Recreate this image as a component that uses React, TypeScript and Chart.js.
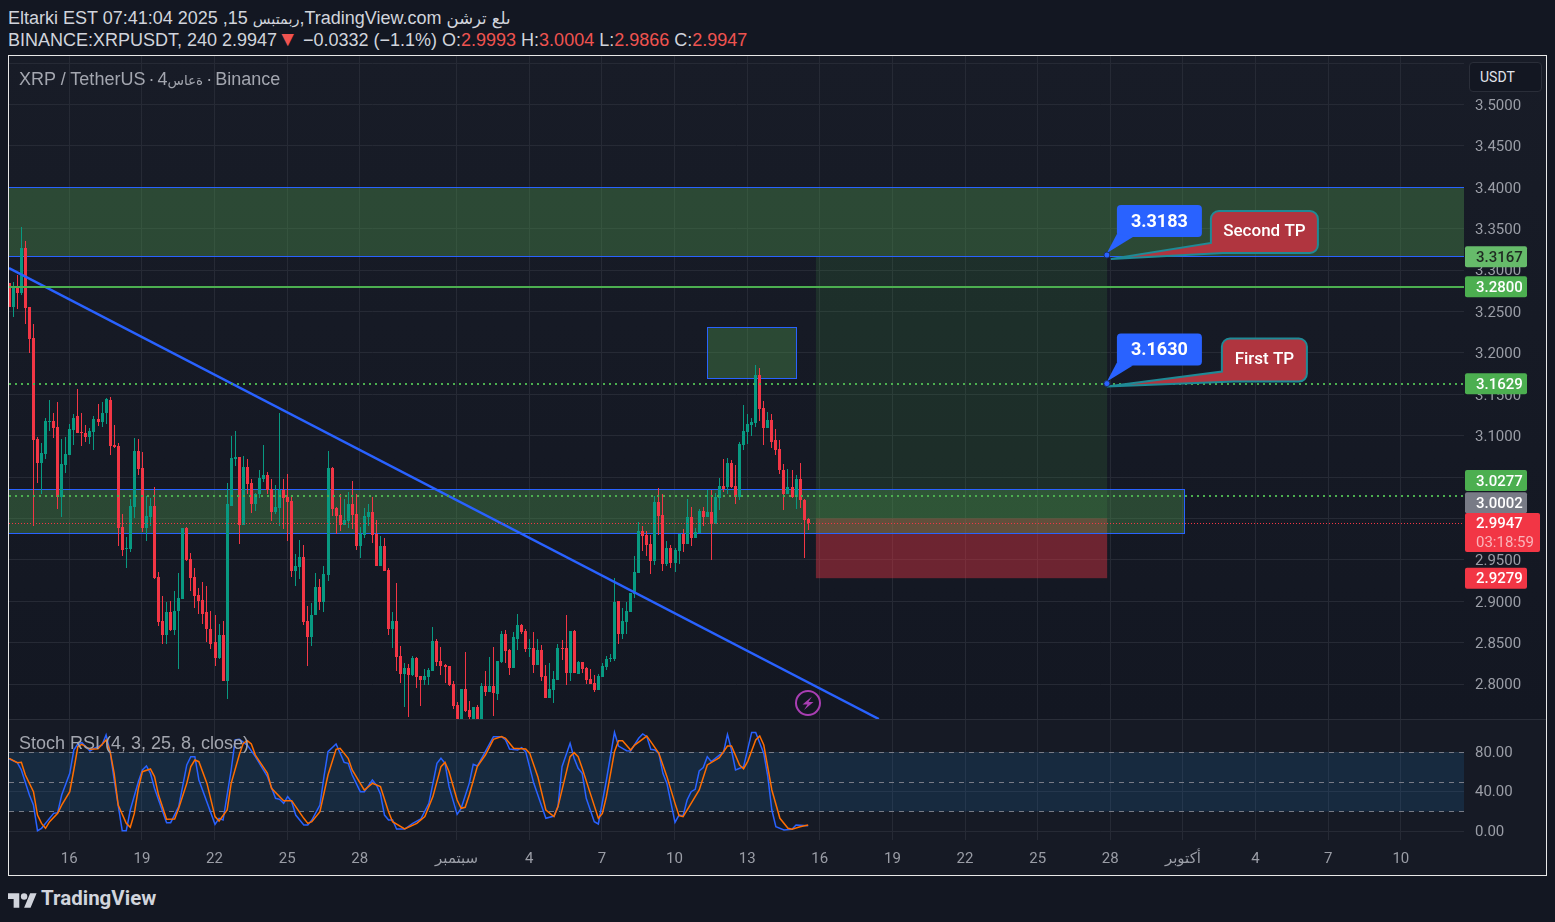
import { useEffect, useRef } from "react"
import Chart from "chart.js/auto"

// ── Theme ────────────────────────────────────────────────────
const PAGE_BG = "#131722"
const UP = "#089981"
const DOWN = "#f23645"
const BLUE = "#2962ff"
const GREEN = "#4caf50"
const ORANGE = "#ff6d00"
const GRID = "#262a35"
const AXIS_TEXT = "#9a9da6"
const FONT = "Roboto, 'DejaVu Sans', sans-serif"
const TITLE_FONT = "'Liberation Sans', 'DejaVu Sans', sans-serif"

// ── Candles: 4h bars, price values ───────────────────────────
const firstBarDay = -2.48 // days from Aug 16
const barsPerDay = 6

const opens = [
  3.284, 3.255, 3.278, 3.273, 3.327, 3.255, 3.218, 3.096, 3.067, 3.078,
  3.116, 3.118, 3.110, 3.026, 3.065, 3.077, 3.107, 3.124, 3.104, 3.103,
  3.098, 3.104, 3.120, 3.116, 3.127, 3.143, 3.089, 3.087, 2.990, 2.963,
  2.963, 3.014, 3.081, 3.061, 2.989, 3.002, 3.015, 2.929, 2.876, 2.859,
  2.887, 2.865, 2.888, 2.903, 2.989, 2.951, 2.929, 2.907, 2.901, 2.887,
  2.867, 2.851, 2.831, 2.859, 2.804, 3.015, 3.072, 3.074, 2.992, 3.062,
  3.043, 3.018, 3.029, 3.048, 3.053, 3.036, 3.008, 3.013, 3.035, 3.026,
  3.021, 2.937, 2.941, 2.954, 2.876, 2.857, 2.883, 2.917, 2.899, 2.932,
  3.061, 3.013, 3.004, 2.992, 2.997, 3.017, 3.005, 2.967, 2.980, 3.002,
  3.008, 2.981, 2.943, 2.967, 2.938, 2.867, 2.876, 2.834, 2.812, 2.819,
  2.811, 2.831, 2.810, 2.805, 2.809, 2.816, 2.852, 2.828, 2.823, 2.822,
  2.800, 2.775, 2.751, 2.794, 2.769, 2.751, 2.772, 2.751, 2.798, 2.791,
  2.798, 2.788, 2.827, 2.861, 2.841, 2.819, 2.855, 2.871, 2.864, 2.842,
  2.843, 2.823, 2.841, 2.810, 2.783, 2.793, 2.805, 2.843, 2.843, 2.813,
  2.864, 2.812, 2.827, 2.819, 2.806, 2.801, 2.793, 2.809, 2.821, 2.830,
  2.830, 2.900, 2.860, 2.875, 2.887, 2.909, 2.934, 2.985, 2.980, 2.969,
  2.949, 3.020, 3.004, 2.945, 2.964, 2.946, 2.961, 2.981, 2.969, 3.002,
  2.977, 2.983, 3.009, 3.002, 3.008, 2.993, 3.025, 3.039, 3.038, 3.067,
  3.039, 3.026, 3.089, 3.104, 3.113, 3.115, 3.173, 3.133, 3.109, 3.119,
  3.095, 3.084, 3.059, 3.029, 3.038, 3.026, 3.048, 3.022, 2.9993,
]
const highs = [
  3.284, 3.286, 3.294, 3.352, 3.335, 3.255, 3.235, 3.098, 3.091, 3.122,
  3.143, 3.127, 3.141, 3.096, 3.098, 3.114, 3.126, 3.156, 3.127, 3.113,
  3.109, 3.124, 3.138, 3.141, 3.145, 3.147, 3.113, 3.091, 3.005, 2.978,
  3.024, 3.097, 3.096, 3.080, 3.027, 3.025, 3.038, 2.935, 2.906, 2.899,
  2.900, 2.913, 2.934, 2.989, 2.990, 2.958, 2.940, 2.916, 2.923, 2.918,
  2.888, 2.884, 2.873, 2.876, 3.043, 3.100, 3.106, 3.074, 3.075, 3.072,
  3.048, 3.031, 3.058, 3.089, 3.056, 3.048, 3.041, 3.127, 3.048, 3.054,
  3.026, 2.957, 2.974, 2.968, 2.894, 2.898, 2.934, 2.927, 2.943, 3.081,
  3.062, 3.014, 3.029, 3.024, 3.032, 3.045, 3.029, 2.990, 3.013, 3.017,
  3.026, 2.998, 2.979, 2.977, 2.940, 2.887, 2.922, 2.846, 2.825, 2.824,
  2.834, 2.833, 2.810, 2.818, 2.819, 2.869, 2.855, 2.845, 2.824, 2.822,
  2.804, 2.778, 2.794, 2.839, 2.780, 2.772, 2.775, 2.801, 2.816, 2.833,
  2.845, 2.828, 2.864, 2.865, 2.842, 2.863, 2.885, 2.873, 2.866, 2.855,
  2.863, 2.855, 2.847, 2.823, 2.825, 2.816, 2.849, 2.853, 2.884, 2.864,
  2.865, 2.828, 2.827, 2.821, 2.818, 2.811, 2.812, 2.825, 2.834, 2.836,
  2.928, 2.900, 2.892, 2.899, 2.910, 2.955, 2.996, 2.991, 2.985, 2.980,
  3.027, 3.037, 3.030, 2.973, 2.968, 2.964, 2.981, 2.987, 3.024, 3.014,
  2.989, 3.012, 3.014, 3.035, 3.035, 3.031, 3.049, 3.072, 3.073, 3.071,
  3.065, 3.093, 3.137, 3.126, 3.121, 3.185, 3.182, 3.142, 3.129, 3.126,
  3.108, 3.095, 3.066, 3.060, 3.058, 3.053, 3.067, 3.024, 3.0004,
]
const lows = [
  3.255, 3.244, 3.253, 3.270, 3.235, 3.200, 2.991, 3.043, 3.030, 3.072,
  3.106, 3.097, 3.012, 3.002, 3.055, 3.077, 3.089, 3.103, 3.087, 3.092,
  3.090, 3.083, 3.112, 3.110, 3.114, 3.077, 3.085, 2.967, 2.955, 2.940,
  2.960, 3.001, 3.053, 2.984, 2.973, 2.991, 2.927, 2.870, 2.848, 2.848,
  2.864, 2.859, 2.818, 2.903, 2.949, 2.912, 2.892, 2.885, 2.872, 2.851,
  2.842, 2.822, 2.830, 2.804, 2.782, 3.015, 3.063, 2.969, 2.992, 3.029,
  3.007, 3.009, 3.025, 3.044, 3.030, 2.997, 3.005, 2.991, 2.987, 2.973,
  2.929, 2.918, 2.927, 2.871, 2.822, 2.846, 2.883, 2.889, 2.887, 2.925,
  3.003, 2.981, 2.985, 2.992, 2.989, 2.987, 2.962, 2.952, 2.977, 2.991,
  2.970, 2.943, 2.943, 2.937, 2.859, 2.843, 2.816, 2.801, 2.772, 2.760,
  2.810, 2.795, 2.774, 2.799, 2.799, 2.816, 2.822, 2.811, 2.801, 2.798,
  2.770, 2.745, 2.745, 2.766, 2.751, 2.747, 2.747, 2.751, 2.786, 2.791,
  2.762, 2.781, 2.825, 2.825, 2.811, 2.819, 2.841, 2.861, 2.839, 2.833,
  2.813, 2.823, 2.804, 2.783, 2.783, 2.777, 2.805, 2.829, 2.799, 2.804,
  2.813, 2.812, 2.813, 2.800, 2.800, 2.791, 2.793, 2.809, 2.817, 2.827,
  2.828, 2.849, 2.854, 2.860, 2.887, 2.904, 2.934, 2.961, 2.955, 2.933,
  2.944, 2.980, 2.937, 2.943, 2.940, 2.935, 2.945, 2.960, 2.969, 2.967,
  2.977, 2.983, 2.991, 3.002, 2.950, 2.993, 3.010, 3.032, 3.030, 3.037,
  3.018, 3.022, 3.083, 3.090, 3.100, 3.110, 3.118, 3.089, 3.109, 3.085,
  3.077, 3.054, 3.010, 3.029, 3.025, 3.012, 3.013, 2.952, 2.9866,
]
const closes = [
  3.255, 3.278, 3.273, 3.327, 3.254, 3.217, 3.095, 3.067, 3.079, 3.118,
  3.118, 3.109, 3.026, 3.066, 3.078, 3.108, 3.122, 3.103, 3.103, 3.098,
  3.106, 3.120, 3.116, 3.127, 3.144, 3.087, 3.086, 2.989, 2.962, 2.964,
  3.015, 3.081, 3.060, 2.989, 3.003, 3.015, 2.928, 2.875, 2.859, 2.887,
  2.865, 2.888, 2.904, 2.989, 2.950, 2.928, 2.906, 2.900, 2.885, 2.866,
  2.849, 2.831, 2.859, 2.804, 3.017, 3.073, 3.074, 2.992, 3.062, 3.042,
  3.018, 3.030, 3.049, 3.053, 3.035, 3.008, 3.014, 3.035, 3.025, 3.020,
  2.937, 2.943, 2.954, 2.875, 2.857, 2.884, 2.917, 2.899, 2.933, 3.061,
  3.012, 3.003, 2.992, 2.998, 3.017, 3.004, 2.967, 2.981, 3.003, 3.008,
  2.980, 2.943, 2.967, 2.937, 2.867, 2.876, 2.833, 2.812, 2.819, 2.811,
  2.831, 2.809, 2.805, 2.810, 2.817, 2.852, 2.827, 2.822, 2.821, 2.799,
  2.774, 2.751, 2.794, 2.768, 2.760, 2.772, 2.751, 2.798, 2.791, 2.798,
  2.789, 2.828, 2.861, 2.840, 2.819, 2.857, 2.871, 2.863, 2.842, 2.843,
  2.823, 2.841, 2.809, 2.783, 2.794, 2.806, 2.843, 2.842, 2.813, 2.864,
  2.813, 2.827, 2.818, 2.805, 2.800, 2.793, 2.810, 2.822, 2.830, 2.831,
  2.899, 2.860, 2.876, 2.888, 2.910, 2.935, 2.985, 2.979, 2.968, 2.949,
  3.020, 3.003, 2.945, 2.964, 2.946, 2.962, 2.981, 2.969, 3.002, 2.977,
  2.984, 3.009, 3.002, 3.008, 2.993, 3.026, 3.039, 3.036, 3.067, 3.038,
  3.026, 3.090, 3.106, 3.114, 3.116, 3.173, 3.132, 3.109, 3.119, 3.093,
  3.083, 3.058, 3.030, 3.038, 3.026, 3.048, 3.022, 2.998, 2.9947,
]

// ── Stoch RSI: turning points of both lines, by bar number ───
const kBars = [
  0, 2, 3, 5, 6, 7, 8, 11, 12, 13, 15, 16, 17, 18, 20, 21, 23, 24, 25, 26, 28, 29, 30, 32, 33, 34, 35, 36, 39, 40,
  42, 44, 45, 46, 47, 51, 52, 53, 55, 56, 57, 59, 61, 64, 66, 67, 68, 69, 70, 71, 73, 74, 75, 77, 78, 79, 81, 83, 84, 85,
  87, 88, 90, 91, 92, 93, 94, 95, 96, 98, 100, 102, 104, 105, 106, 107, 108, 109, 111, 112, 114, 115, 116, 118, 120, 122, 123, 124, 126, 127,
  128, 130, 133, 135, 136, 137, 139, 140, 141, 142, 143, 144, 145, 146, 148, 150, 151, 153, 154, 156, 157, 158, 159, 160, 161, 162, 163, 165, 166, 167,
  168, 169, 170, 171, 172, 173, 174, 176, 177, 178, 179, 180, 182, 184, 185, 187, 188, 189, 190, 192, 194, 195, 198,
]
const kValues = [
  73.0, 69.3, 61.9, 36.6, 26.5, 0.6, 3.0, 18.1, 18.8, 36.6, 58.5, 82.1, 88.2, 89.5, 81.1, 83.8, 87.1, 97.2, 80.4, 51.8, 0.6, 0.6, 21.5, 50.1, 61.9, 66.0, 58.5, 43.4, 8.7, 8.7,
  24.9, 67.0, 75.4, 75.4, 51.8, 7.0, 13.1, 11.4, 61.9, 92.2, 92.9, 87.1, 75.4, 55.2, 33.3, 32.3, 28.2, 35.0, 29.9, 16.4, 6.3, 6.3, 11.4, 26.5, 55.2, 80.4, 88.2, 69.6, 68.6, 56.8,
  40.0, 40.0, 51.8, 46.7, 37.6, 16.4, 11.4, 11.4, 2.3, 2.3, 8.0, 12.4, 28.2, 48.4, 68.6, 73.7, 68.6, 45.1, 17.1, 23.2, 48.4, 67.6, 65.9, 80.4, 95.6, 95.6, 92.2, 83.1, 82.1, 84.5,
  80.4, 48.4, 13.1, 15.4, 24.9, 65.3, 88.8, 73.7, 63.6, 58.5, 33.3, 21.5, 9.7, 7.4, 51.8, 99.9, 86.1, 81.4, 81.1, 93.9, 98.3, 95.6, 82.8, 82.1, 78.7, 58.5, 48.4, 9.0, 16.4, 15.8,
  31.6, 40.0, 42.4, 60.9, 64.3, 75.4, 70.3, 77.0, 79.4, 97.9, 82.1, 61.9, 65.3, 99.9, 99.9, 78.7, 55.2, 21.5, 4.6, 1.3, 2.0, 6.3, 5.7,
]
const dBars = [
  0, 2, 3, 4, 6, 7, 8, 9, 10, 12, 13, 15, 16, 17, 18, 20, 22, 24, 25, 26, 27, 29, 30, 31, 32, 33, 35, 36, 37, 39,
  41, 42, 44, 45, 46, 47, 49, 51, 52, 54, 55, 57, 58, 59, 60, 61, 64, 65, 68, 70, 71, 73, 74, 75, 77, 79, 81, 82, 84, 85,
  87, 88, 90, 92, 94, 95, 98, 101, 103, 105, 107, 108, 109, 111, 112, 113, 114, 116, 118, 120, 122, 123, 125, 128, 129, 131, 133, 135, 136, 139,
  140, 141, 142, 144, 146, 147, 148, 150, 151, 152, 154, 155, 158, 159, 161, 163, 165, 166, 167, 169, 171, 173, 176, 178, 179, 181, 182, 183, 185, 186,
  187, 189, 191, 193, 194, 196, 198,
]
const dValues = [
  73.7, 69.3, 69.6, 56.8, 40.0, 16.4, 8.0, 3.0, 9.7, 18.1, 26.5, 40.0, 61.9, 85.5, 87.8, 82.8, 83.4, 92.2, 80.4, 58.5, 26.5, 8.0, 4.0, 18.1, 43.4, 60.2, 62.9, 55.2, 36.6, 12.1,
  12.4, 23.2, 48.4, 65.3, 72.0, 70.3, 48.4, 14.8, 10.4, 21.5, 48.4, 77.0, 88.8, 91.5, 88.2, 77.0, 58.5, 43.4, 30.9, 30.9, 24.9, 13.1, 8.0, 9.7, 19.8, 56.8, 82.8, 83.8, 73.7, 61.9,
  48.4, 41.7, 48.4, 45.1, 19.8, 9.7, 2.3, 8.0, 14.8, 35.0, 65.3, 69.6, 60.2, 31.6, 23.2, 24.2, 36.6, 65.3, 77.0, 92.9, 95.6, 93.9, 83.8, 83.1, 78.7, 55.2, 21.5, 14.8, 24.9, 75.4,
  79.4, 75.4, 63.6, 38.3, 13.1, 18.1, 35.0, 80.4, 91.5, 91.5, 82.1, 87.1, 96.2, 90.5, 78.7, 55.2, 28.2, 15.8, 14.8, 28.2, 41.7, 67.0, 74.4, 86.1, 86.1, 67.0, 63.2, 70.3, 92.2, 96.2,
  87.1, 41.7, 13.1, 3.0, 2.0, 4.6, 6.3,
]

// ── Axes ─────────────────────────────────────────────────────
const dayMin = -2.49
const dayMax = 57.61
const tickDays = [0, 3, 6, 9, 12, 16, 19, 22, 25, 28, 31, 34, 37, 40, 43, 46, 49, 52, 55]
const tickLabels = ["16", "19", "22", "25", "28", "سبتمبر", "4", "7", "10", "13", "16", "19", "22", "25", "28", "أكتوبر", "4", "7", "10"]
const priceMin = 2.7578
const priceMax = 3.5587
const rsiMin = -8.8
const rsiMax = 112.4
const rsiTicks = [0, 40, 80]
const rsiDashes = [80, 50, 20]

// ── Drawings on the price pane (day, price) ──────────────────
const trendDays = [-2.49, 33.44]
const trendPrices = [3.3026, 2.7578]
const solidLevel = 3.28
const dottedLevels = [3.1629, 3.0277]
const lastPrice = 2.9947
const topZone = [3.4, 3.3167]
const midZone = [3.0353, 2.982]
const midZoneEnd = 46.04
const smallZone = [26.34, 30.02, 3.2312, 3.1694]
const longDays = [30.84, 42.87]
const longPrices = [3.3167, 3.0002, 2.9279]
const targetDay = 42.86
const targetPrices = [3.3183, 3.163]

const dayOfBar = (i: number) => firstBarDay + i / barsPerDay

function roundedBoxPath(ctx: CanvasRenderingContext2D, x: number, y: number, w: number, h: number, r: number) {
  ctx.beginPath()
  ctx.roundRect(x, y, w, h, r)
}

function drawTag(ctx: CanvasRenderingContext2D, left: number, midY: number, text: string, bg: string, fg: string) {
  ctx.fillStyle = bg
  roundedBoxPath(ctx, left, midY - 10.5, 62, 21, 2)
  ctx.fill()
  ctx.fillStyle = fg
  ctx.font = `500 15px ${FONT}`
  ctx.textAlign = "left"
  ctx.textBaseline = "middle"
  ctx.fillText(text, left + 11, midY + 1.5)
}

// Blue value note: small box above the anchor, tail to the anchor
function drawValueNote(ctx: CanvasRenderingContext2D, ax: number, ay: number, text: string) {
  const x = ax + 10, top = ay - 50, w = 85, h = 32
  ctx.fillStyle = BLUE
  roundedBoxPath(ctx, x, top, w, h, 4)
  ctx.fill()
  ctx.beginPath()
  ctx.moveTo(ax, ay - 2)
  ctx.lineTo(x, top + h - 3)
  ctx.lineTo(x + 16, top + h)
  ctx.closePath()
  ctx.fill()
  ctx.fillStyle = "#fff"
  ctx.font = `bold 18px ${FONT}`
  ctx.textAlign = "center"
  ctx.textBaseline = "middle"
  ctx.fillText(text, x + w / 2, top + h / 2 + 1)
  ctx.beginPath()
  ctx.arc(ax, ay, 3, 0, Math.PI * 2)
  ctx.fillStyle = BLUE
  ctx.fill()
  ctx.strokeStyle = "#1c2f66"
  ctx.lineWidth = 1
  ctx.stroke()
}

// Red callout with a long tail running back to the anchor
function drawCallout(ctx: CanvasRenderingContext2D, tipX: number, tipY: number, x: number, top: number, w: number, h: number, text: string) {
  const r = 8
  ctx.beginPath()
  ctx.moveTo(tipX, tipY)
  ctx.lineTo(x, top + h - 10)
  ctx.lineTo(x, top + r)
  ctx.arcTo(x, top, x + r, top, r)
  ctx.lineTo(x + w - r, top)
  ctx.arcTo(x + w, top, x + w, top + r, r)
  ctx.lineTo(x + w, top + h - r)
  ctx.arcTo(x + w, top + h, x + w - r, top + h, r)
  ctx.lineTo(x + 12, top + h)
  ctx.closePath()
  ctx.fillStyle = "#b0353f"
  ctx.fill()
  ctx.strokeStyle = "#1f8a96"
  ctx.lineWidth = 2
  ctx.stroke()
  ctx.fillStyle = "#fff"
  ctx.font = `500 17px ${FONT}`
  ctx.textAlign = "center"
  ctx.textBaseline = "middle"
  ctx.fillText(text, x + w / 2, top + h / 2)
}

// snap candle rects and flat level lines to whole pixels so they stay crisp
const snapMarks = {
  id: "snapMarks",
  afterDatasetsUpdate(chart: any) {
    chart.data.datasets.forEach((ds: any, i: number) => {
      const els = chart.getDatasetMeta(i).data
      if (ds.type === "bar") {
        els.forEach((el: any) => {
          el.x = Math.floor(el.x) + 0.5
          el.y = Math.round(el.y)
          el.base = Math.round(el.base)
          el.height = el.base - el.y
        })
      } else if (ds.isLevel) {
        const shift = ds.borderWidth % 2 ? 0.5 : 0
        els.forEach((el: any) => { el.y = Math.round(el.y) + shift })
      }
    })
  },
}

const priceZones = {
  id: "priceZones",
  beforeDatasetsDraw(chart: any) {
    const { ctx, chartArea: a, scales } = chart
    const px = (d: number) => scales.x.getPixelForValue(d)
    const py = (p: number) => scales.y.getPixelForValue(p)
    const zoneFill = "rgba(80,150,80,0.38)"
    ctx.save()
    ctx.beginPath()
    ctx.rect(a.left, a.top, a.right - a.left, a.bottom - a.top)
    ctx.clip()

    // long position
    ctx.fillStyle = "rgba(76,175,80,0.14)"
    ctx.fillRect(px(longDays[0]), py(longPrices[0]), px(longDays[1]) - px(longDays[0]), py(longPrices[1]) - py(longPrices[0]))
    ctx.fillStyle = "rgba(242,54,69,0.4)"
    ctx.fillRect(px(longDays[0]), py(longPrices[1]), px(longDays[1]) - px(longDays[0]), py(longPrices[2]) - py(longPrices[1]))

    ctx.fillStyle = zoneFill
    ctx.strokeStyle = BLUE
    ctx.lineWidth = 1
    // upper zone runs to the axis
    const ut = Math.round(py(topZone[0])) + 0.5
    const ub = Math.round(py(topZone[1])) + 0.5
    ctx.fillRect(a.left, ut, a.right - a.left, ub - ut)
    ctx.strokeRect(a.left - 5, ut, a.right - a.left + 10, ub - ut)
    // middle zone ends at Oct 1
    const mt = Math.round(py(midZone[0])) + 0.5
    const mb = Math.round(py(midZone[1])) + 0.5
    const mr = Math.round(px(midZoneEnd)) + 0.5
    ctx.fillRect(a.left, mt, mr - a.left, mb - mt)
    ctx.strokeRect(a.left - 5, mt, mr - a.left + 5, mb - mt)
    // small box over the high
    const sl = Math.round(px(smallZone[0])) + 0.5
    const sr = Math.round(px(smallZone[1])) + 0.5
    const st = Math.round(py(smallZone[2])) + 0.5
    const sb = Math.round(py(smallZone[3])) + 0.5
    ctx.fillRect(sl, st, sr - sl, sb - st)
    ctx.strokeRect(sl, st, sr - sl, sb - st)
    ctx.restore()
  },
  afterDraw(chart: any) {
    const { ctx, chartArea: a, scales } = chart
    const px = (d: number) => scales.x.getPixelForValue(d)
    const py = (p: number) => scales.y.getPixelForValue(p)
    ctx.save()
    const ax = px(targetDay)
    const a0 = py(targetPrices[0])
    const a1 = py(targetPrices[1])
    drawCallout(ctx, ax + 4, a0 + 4, ax + 104, a0 - 44, 107, 42, "Second TP")
    drawCallout(ctx, ax, a1 + 3, ax + 115, a1 - 45, 85, 43, "First TP")
    drawValueNote(ctx, ax, a0, "3.3183")
    drawValueNote(ctx, ax, a1, "3.1630")

    // price tags on the axis
    const left = a.right + 1
    drawTag(ctx, left, py(3.3167) + 0.5, "3.3167", "#66bb6a", "#1f2a22")
    drawTag(ctx, left, py(3.28), "3.2800", GREEN, "#fff")
    drawTag(ctx, left, py(3.1629), "3.1629", GREEN, "#fff")
    drawTag(ctx, left, py(3.0277) - 15, "3.0277", GREEN, "#fff")
    drawTag(ctx, left, py(3.0002) - 15.5, "3.0002", "#787b86", "#fff")
    drawTag(ctx, left, py(2.9279), "2.9279", DOWN, "#fff")
    // last price with countdown
    const ly = py(lastPrice)
    ctx.fillStyle = DOWN
    roundedBoxPath(ctx, left, ly - 10, 75, 39, 2)
    ctx.fill()
    ctx.font = `500 15px ${FONT}`
    ctx.textAlign = "left"
    ctx.textBaseline = "middle"
    ctx.fillStyle = "#fff"
    ctx.fillText("2.9947", left + 11, ly + 1.5)
    ctx.fillStyle = "#fbb4ba"
    ctx.font = `400 15px ${FONT}`
    ctx.fillText("03:18:59", left + 11, ly + 20)
    ctx.restore()
  },
}

const rsiBand = {
  id: "rsiBand",
  beforeDatasetsDraw(chart: any) {
    const { ctx, chartArea: a, scales } = chart
    const top = scales.y.getPixelForValue(80)
    const bottom = scales.y.getPixelForValue(20)
    ctx.save()
    ctx.fillStyle = "rgba(33,150,243,0.13)"
    ctx.fillRect(a.left, top, a.right - a.left, bottom - top)
    ctx.restore()
  },
}

const levelLine = (price: number, color: string, width: number, dash: number[]) => ({
  type: "line" as const,
  isLevel: true,
  data: [{ x: dayMin, y: price }, { x: dayMax, y: price }],
  borderColor: color,
  borderWidth: width,
  borderDash: dash,
  pointRadius: 0,
  order: 0,
})

function xScale(showLabels: boolean) {
  return {
    type: "linear" as const,
    offset: false,
    min: dayMin,
    max: dayMax,
    afterBuildTicks: (scale: any) => { scale.ticks = tickDays.map(value => ({ value })) },
    afterFit: (scale: any) => {
      scale.height = showLabels ? 35 : 0
      scale.paddingLeft = 0
      scale.paddingRight = 0
    },
    border: { display: false },
    grid: { color: GRID, drawTicks: false, offset: false },
    ticks: {
      display: showLabels,
      autoSkip: false,
      maxRotation: 0,
      padding: 10,
      color: AXIS_TEXT,
      font: { family: FONT, size: 15 },
      callback: (_v: any, i: number) => tickLabels[i],
    },
  }
}

// fixed axis strip; label overhang must not shrink the plot
const fitValueAxis = (scale: any) => {
  scale.width = 82
  scale.paddingTop = 0
  scale.paddingBottom = 0
}

function PriceAndRsi() {
  const priceRef = useRef<HTMLCanvasElement>(null)
  const rsiRef = useRef<HTMLCanvasElement>(null)

  useEffect(() => {
    if (!priceRef.current || !rsiRef.current) return
    const colors = closes.map((c, i) => (c >= opens[i] ? UP : DOWN))

    const priceChart = new Chart(priceRef.current, {
      type: "bar",
      data: {
        datasets: [
          {
            type: "bar",
            data: opens.map((_, i) => ({ x: dayOfBar(i), y: [lows[i], highs[i]] })) as any,
            backgroundColor: colors,
            barThickness: 1,
            grouped: false,
            inflateAmount: 0,
            minBarLength: 1,
            order: 2,
          },
          {
            type: "bar",
            data: opens.map((o, i) => ({ x: dayOfBar(i), y: [o, closes[i]] })) as any,
            backgroundColor: colors,
            barThickness: 3,
            grouped: false,
            inflateAmount: 0,
            minBarLength: 1,
            order: 1,
          },
          levelLine(solidLevel, GREEN, 2, []),
          levelLine(dottedLevels[0], GREEN, 2, [2, 4]),
          levelLine(dottedLevels[1], GREEN, 2, [2, 4]),
          levelLine(lastPrice, DOWN, 1, [1, 2]),
          {
            type: "line",
            data: trendDays.map((x, i) => ({ x, y: trendPrices[i] })),
            borderColor: BLUE,
            borderWidth: 2.5,
            pointRadius: 0,
            order: 0,
          },
        ] as any,
      },
      options: {
        animation: false,
        responsive: false,
        devicePixelRatio: 1,
        layout: { padding: 0, autoPadding: false },
        plugins: { legend: { display: false }, tooltip: { enabled: false } },
        scales: {
          x: xScale(false),
          y: {
            position: "right",
            min: priceMin,
            max: priceMax,
            afterFit: fitValueAxis,
            border: { display: false },
            grid: { color: GRID, drawTicks: false },
            ticks: {
              stepSize: 0.05,
              includeBounds: false,
              autoSkip: false,
              padding: 11,
              labelOffset: 1.5,
              color: AXIS_TEXT,
              font: { family: FONT, size: 15 },
              // 3.5500 sits behind the currency button
              callback: (v: any) => (v > 3.52 ? "" : Number(v).toFixed(4)),
            },
          },
        } as any,
      },
      plugins: [snapMarks, priceZones],
    })

    const rsiChart = new Chart(rsiRef.current, {
      type: "line",
      data: {
        datasets: [
          ...rsiDashes.map(v => ({
            ...levelLine(v, "#787b86", 1, [5, 5]),
            order: 2,
          })),
          {
            data: kBars.map((b, i) => ({ x: dayOfBar(b), y: kValues[i] })),
            borderColor: BLUE,
            borderWidth: 1.5,
            pointRadius: 0,
            order: 1,
          },
          {
            data: dBars.map((b, i) => ({ x: dayOfBar(b), y: dValues[i] })),
            borderColor: ORANGE,
            borderWidth: 1.5,
            pointRadius: 0,
            order: 0,
          },
        ] as any,
      },
      options: {
        animation: false,
        responsive: false,
        devicePixelRatio: 1,
        layout: { padding: 0, autoPadding: false },
        plugins: { legend: { display: false }, tooltip: { enabled: false } },
        scales: {
          x: xScale(true),
          y: {
            position: "right",
            min: rsiMin,
            max: rsiMax,
            afterBuildTicks: (scale: any) => { scale.ticks = rsiTicks.map(value => ({ value })) },
            afterFit: fitValueAxis,
            border: { display: false },
            grid: { color: GRID, drawTicks: false },
            ticks: {
              autoSkip: false,
              padding: 11,
              labelOffset: 1,
              color: AXIS_TEXT,
              font: { family: FONT, size: 15 },
              callback: (v: any) => Number(v).toFixed(2),
            },
          },
        } as any,
      },
      plugins: [snapMarks, rsiBand],
    })

    return () => {
      priceChart.destroy()
      rsiChart.destroy()
    }
  }, [])

  return (
    <>
      <canvas
        ref={priceRef}
        width={1537}
        height={663}
        style={{ position: "absolute", left: 9, top: 56, background: "linear-gradient(#181c27, #131722)" }}
      />
      <canvas
        ref={rsiRef}
        width={1537}
        height={155}
        style={{ position: "absolute", left: 9, top: 720, background: "#161a25" }}
      />
    </>
  )
}

const red = { color: "#ef5350" }

// the source image prints Arabic words letter by letter from the left
const Lr = ({ children, size }: { children: string; size: number }) => <bdo dir="ltr" style={{ fontSize: size }}>{children}</bdo>

export default function App() {
  return (
    <div style={{
      position: "absolute", left: 0, top: 0, width: 1555, height: 922,
      background: PAGE_BG, overflow: "hidden", fontFamily: TITLE_FONT, color: "#d1d4dc",
    }}>
      <div style={{ position: "absolute", left: 8, top: 8, fontSize: 18, lineHeight: "20px", whiteSpace: "nowrap" }}>
        Eltarki EST 07:41:04 2025 ,15 <Lr size={14.5}>سبتمبر</Lr>,TradingView.com <Lr size={16.5}>نشرت</Lr> <Lr size={16.5}>على</Lr>
      </div>
      <div style={{ position: "absolute", left: 8, top: 30, fontSize: 18, lineHeight: "20px", whiteSpace: "nowrap" }}>
        BINANCE:XRPUSDT, 240 2.9947<span style={{ ...red, fontSize: 21, lineHeight: "16px" }}>▼</span> −0.0332 (−1.1%) O:<span style={red}>2.9993</span> H:<span style={red}>3.0004</span> L:<span style={red}>2.9866</span> C:<span style={red}>2.9947</span>
      </div>

      <div style={{ position: "absolute", left: 8, top: 55, width: 1539, height: 821, boxSizing: "border-box", border: "1px solid #e8e8e8" }} />
      <PriceAndRsi />
      <div style={{ position: "absolute", left: 9, top: 719, width: 1537, height: 1, background: "#2a2e39" }} />

      <div style={{ position: "absolute", left: 19, top: 68, fontSize: 18, lineHeight: "22px", color: "#a3a6af", whiteSpace: "nowrap" }}>
        XRP / TetherUS<span style={{ wordSpacing: -2 }}> · 4<Lr size={13.5}>ساعة</Lr> · </span>Binance
      </div>
      <div style={{ position: "absolute", left: 19, top: 732, fontSize: 18, lineHeight: "22px", color: "#a3a6af", whiteSpace: "nowrap" }}>
        Stoch RSI (4, 3, 25, 8, close)
      </div>

      <div style={{
        position: "absolute", left: 1469, top: 62, width: 73, height: 30, boxSizing: "border-box",
        border: "1px solid #2a2e39", borderRadius: 4, background: "#131722",
        fontFamily: FONT, fontSize: 14, lineHeight: "28px", paddingLeft: 10, color: "#e0e3eb",
      }}>
        USDT
      </div>

      <svg width={28} height={28} viewBox="0 0 28 28" style={{ position: "absolute", left: 794, top: 689 }}>
        <circle cx={14} cy={14} r={12} fill="#131722" stroke="#a93eb3" strokeWidth={2} />
        <path d="M18 7.5 8.5 15.5h5L10 21l9.5-8h-5z" fill="#a93eb3" />
      </svg>

      <svg width={29} height={18} viewBox="0 0 36 22" style={{ position: "absolute", left: 8, top: 890 }}>
        <path d="M14 22H7V11H0V4h14v18zM28 22h-8l7.5-18h8L28 22z" fill="#d1d4dc" />
        <circle cx={20} cy={8} r={4} fill="#d1d4dc" />
      </svg>
      <div style={{ position: "absolute", left: 41, top: 886, fontFamily: FONT, fontSize: 20.5, fontWeight: 700, lineHeight: "24px", color: "#d1d4dc" }}>
        TradingView
      </div>
    </div>
  )
}
